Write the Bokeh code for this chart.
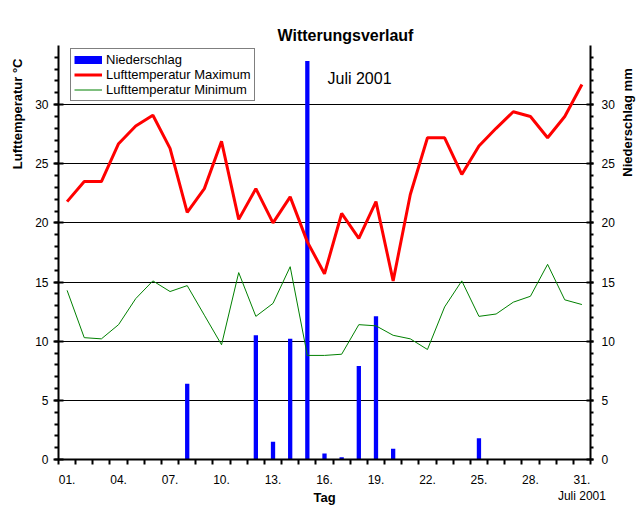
import math
from bokeh.plotting import figure
from bokeh.models import (LinearAxis, Range1d, FixedTicker, Legend, LegendItem, Label,
                          ColumnDataSource, Title)
from bokeh.embed import file_html
from bokeh.resources import INLINE

# ---- data ----
days = list(range(1, 32))
niederschlag = [0, 0, 0, 0, 0, 0, 0, 6.4, 0, 0, 0, 10.5, 1.5, 10.2, 33.7, 0.5, 0.2, 7.9,
                12.1, 0.9, 0, 0, 0, 0, 1.8, 0, 0, 0, 0, 0, 0]
t_max = [21.8, 23.5, 23.5, 26.7, 28.2, 29.1, 26.3, 20.9, 22.9, 26.9, 20.3, 22.9, 20.0,
         22.2, 18.4, 15.7, 20.8, 18.7, 21.8, 15.1, 22.4, 27.2, 27.2, 24.1, 26.5, 28.0,
         29.4, 29.0, 27.2, 29.0, 31.7]
t_min = [14.3, 10.3, 10.2, 11.4, 13.6, 15.1, 14.2, 14.7, 12.2, 9.7, 15.8, 12.1, 13.2,
         16.3, 8.8, 8.8, 8.9, 11.4, 11.3, 10.5, 10.2, 9.3, 12.9, 15.1, 12.1, 12.3, 13.3,
         13.8, 16.5, 13.5, 13.1]
x_tick_days = [1, 4, 7, 10, 13, 16, 19, 22, 25, 28, 31]
x_tick_labels = ["01.", "04.", "07.", "10.", "13.", "16.", "19.", "22.", "25.", "28.",
                 "31.\nJuli 2001"]
y_ticks = [0, 5, 10, 15, 20, 25, 30]
grid_ticks = [5, 10, 15, 20, 25, 30]

FONT = "Liberation Sans"
NBSP = "\u00a0"

src = ColumnDataSource(dict(day=days, rain=niederschlag, tmax=t_max, tmin=t_min))

p = figure(frame_width=532, frame_height=414,
           x_range=Range1d(0.5, 31.5), y_range=Range1d(0, 35),
           output_backend="svg", toolbar_location=None,
           min_border_left=58, min_border_top=45, min_border_right=46, min_border_bottom=53,
           background_fill_color="white", border_fill_color="white",
           outline_line_color=None)
p.extra_y_ranges = {"rain": Range1d(0, 35)}

# title
p.title.text = "Witterungsverlauf"
p.title.align = "left"
p.title.offset = 219
p.title.standoff = 4
p.title.text_font = FONT
p.title.text_font_size = "16px"
p.title.text_font_style = "bold"
p.title.text_color = "black"

# ---- axes ----
xa = p.xaxis[0]
xa.ticker = FixedTicker(ticks=x_tick_days, minor_ticks=[d - 0.5 for d in days] + [31.5])
xa.major_label_overrides = {d: lab for d, lab in zip(x_tick_days, x_tick_labels)}
xa.major_tick_out = 0
xa.major_tick_in = 0
xa.minor_tick_out = 5
xa.minor_tick_in = 0
xa.minor_tick_line_width = 2
xa.major_label_standoff = 8
xa.axis_line_width = 2
xa.axis_line_color = "black"
xa.minor_tick_line_color = "black"
xa.major_label_text_font = FONT
xa.major_label_text_font_size = "12px"
xa.major_label_text_color = "black"
xa.axis_label = "Tag"
xa.axis_label_text_font = FONT
xa.axis_label_text_font_size = "13px"
xa.axis_label_text_font_style = "bold"
xa.axis_label_text_color = "black"
xa.axis_label_standoff = -16

ya = p.yaxis[0]
ya.ticker = FixedTicker(ticks=y_ticks, minor_ticks=list(range(0, 35)))
ya.major_tick_out = 5
ya.major_tick_in = 5
ya.minor_tick_out = 4
ya.minor_tick_in = 0
ya.major_tick_line_width = 2
ya.minor_tick_line_width = 2
ya.axis_line_width = 2
ya.major_label_standoff = 5
ya.major_label_text_font = FONT
ya.major_label_text_font_size = "12px"
ya.major_label_text_color = "black"

yr = LinearAxis(y_range_name="rain",
                ticker=FixedTicker(ticks=y_ticks, minor_ticks=list(range(0, 35))))
yr.major_tick_out = 3
yr.major_tick_in = 4
yr.minor_tick_out = 3
yr.minor_tick_in = 0
yr.major_tick_line_width = 2
yr.minor_tick_line_width = 2
yr.axis_line_width = 2
yr.major_label_standoff = 8
yr.major_label_text_font = FONT
yr.major_label_text_font_size = "12px"
yr.major_label_text_color = "black"
# reads bottom-to-top and starts at the axis middle; lead-in spaces lift it up
yr.axis_label = NBSP * 21 + "Niederschlag  mm"
yr.axis_label_text_font = FONT
yr.axis_label_text_font_size = "13px"
yr.axis_label_text_font_style = "bold"
yr.axis_label_text_color = "black"
yr.axis_label_standoff = 10
yr.axis_label_orientation = math.pi / 2
p.add_layout(yr, "right")

# left axis title (placed near the top like the original)
p.add_layout(Title(text="Lufttemperatur °C", align="right", offset=13, standoff=15,
                   text_font=FONT, text_font_size="13px", text_font_style="bold",
                   text_color="black"), "left")

p.xgrid.visible = False
p.ygrid.ticker = FixedTicker(ticks=grid_ticks)
p.ygrid.grid_line_color = "black"
p.ygrid.grid_line_width = 1

# ---- glyphs ----
bars = p.vbar(x="day", top="rain", width=0.25, source=src, y_range_name="rain",
              fill_color="#0000FF", line_color=None)
lmax = p.line(x="day", y="tmax", source=src, line_color="#FF0000", line_width=3)
lmin = p.line(x="day", y="tmin", source=src, line_color="#008000", line_width=1)
rain_key = p.line(x=[days[0]], y=[float("nan")], line_color="#0000FF", line_width=8)

legend = Legend(items=[LegendItem(label="Niederschlag", renderers=[rain_key]),
                       LegendItem(label="Lufttemperatur Maximum", renderers=[lmax]),
                       LegendItem(label="Lufttemperatur Minimum", renderers=[lmin])],
                location=(12, 358), margin=0, padding=3, spacing=0,
                label_height=13, glyph_height=13, glyph_width=28, label_standoff=4,
                border_line_color="black", border_line_width=1,
                label_text_font=FONT, label_text_font_size="13px",
                label_text_color="black", background_fill_alpha=1.0)
p.add_layout(legend)

# in-plot note
p.add_layout(Label(x=269, y=381, x_units="screen", y_units="screen", text="Juli 2001",
                   text_font=FONT, text_font_size="16px", text_align="left",
                   text_baseline="middle", text_color="black"))

open("out.html", "w").write(file_html(p, INLINE))
